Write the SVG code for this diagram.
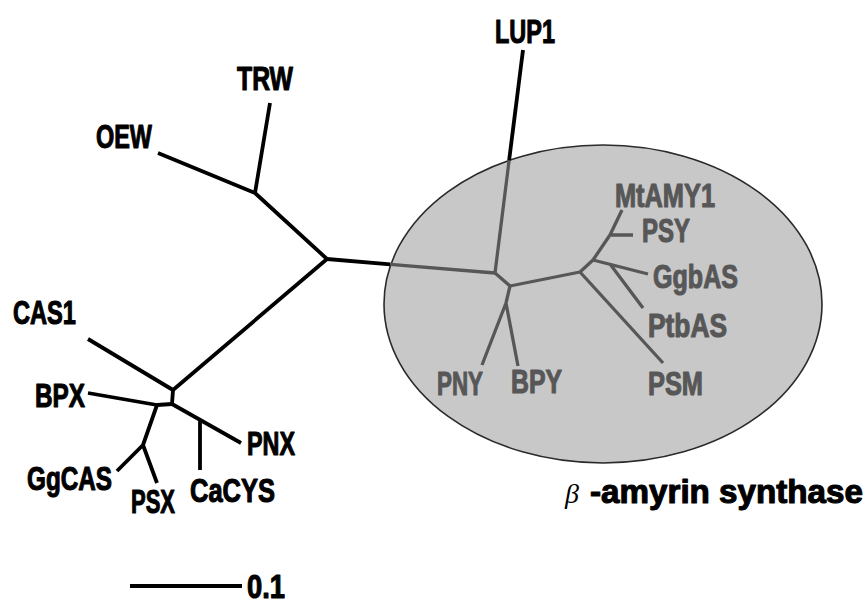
<svg xmlns="http://www.w3.org/2000/svg" width="867" height="605" viewBox="0 0 867 605">
  <style>
    .br { fill: none; stroke: #000; stroke-width: 3.8; stroke-linecap: butt; stroke-linejoin: round; }
    .bi { fill: none; stroke: #575757; stroke-width: 3.3; stroke-linecap: butt; stroke-linejoin: round; }
    .lb { font-family: "Liberation Sans Narrow", "Liberation Sans", Arial, sans-serif; font-weight: bold; font-size: 33px; fill: #000; stroke: #000; stroke-width: 1.1; stroke-linejoin: round; }
    .li { fill: #575757; stroke: #575757; }
  </style>

  <!-- beta-amyrin synthase clade highlight -->
  <g id="clade-bas">
    <ellipse cx="603" cy="304" rx="219" ry="159" fill="#c8c8c8" stroke="#2a2a2a" stroke-width="1.6"/>
  </g>

  <!-- branches -->
  <g id="connectors">
    <!-- outer tree -->
    <path class="br" d="M327,259 L255,193 M255,193 L158,153 M255,193 L270,103"/>
    <path class="br" d="M327,259 L390.3,264.3"/>
    <path class="br" d="M523,50 L509.1,160.4"/>
    <path class="br" d="M327,259 L173,390 L172,404 M173,390 L88,339"/>
    <path class="br" d="M172,404 L157,405 L88,393 M157,405 L143,445 L117,471 M143,445 L157,483"/>
    <path class="br" d="M172,404 L241,443 M200,420 L200,470"/>
    <!-- inside the clade -->
    <path class="bi" d="M390.3,264.3 L495,273 L509.1,160.4"/>
    <path class="bi" d="M495,273 L510,286 L580,272"/>
    <path class="bi" d="M510,286 L506,303 L482,365 M506,303 L518,366"/>
    <path class="bi" d="M580,272 L663,363 M580,272 L593,260 L648,274 M610,264 L643,308"/>
    <path class="bi" d="M593,260 L610,235 L622,210 M610,235 L633,235"/>
    <!-- scale bar -->
    <path class="br" d="M130,586 L242,586" stroke-width="4"/>
  </g>

  <!-- leaf labels -->
  <g id="leaf-LUP1"><text class="lb" x="495" y="43" textLength="60" lengthAdjust="spacingAndGlyphs">LUP1</text></g>
  <g id="leaf-TRW"><text class="lb" x="237" y="90" textLength="56" lengthAdjust="spacingAndGlyphs">TRW</text></g>
  <g id="leaf-OEW"><text class="lb" x="96" y="148" textLength="56" lengthAdjust="spacingAndGlyphs">OEW</text></g>
  <g id="leaf-CAS1"><text class="lb" x="13" y="324" textLength="63" lengthAdjust="spacingAndGlyphs">CAS1</text></g>
  <g id="leaf-BPX"><text class="lb" x="35" y="407" textLength="50" lengthAdjust="spacingAndGlyphs">BPX</text></g>
  <g id="leaf-GgCAS"><text class="lb" x="27" y="490" textLength="85" lengthAdjust="spacingAndGlyphs">GgCAS</text></g>
  <g id="leaf-PSX"><text class="lb" x="131" y="513" textLength="44" lengthAdjust="spacingAndGlyphs">PSX</text></g>
  <g id="leaf-CaCYS"><text class="lb" x="190" y="502" textLength="85" lengthAdjust="spacingAndGlyphs">CaCYS</text></g>
  <g id="leaf-PNX"><text class="lb" x="247" y="455" textLength="48" lengthAdjust="spacingAndGlyphs">PNX</text></g>

  <g id="leaf-MtAMY1"><text class="lb li" x="615" y="207" textLength="100" lengthAdjust="spacingAndGlyphs">MtAMY1</text></g>
  <g id="leaf-PSY"><text class="lb li" x="642" y="242" textLength="48" lengthAdjust="spacingAndGlyphs">PSY</text></g>
  <g id="leaf-GgbAS"><text class="lb li" x="653" y="288" textLength="85" lengthAdjust="spacingAndGlyphs">GgbAS</text></g>
  <g id="leaf-PtbAS"><text class="lb li" x="648" y="337" textLength="79" lengthAdjust="spacingAndGlyphs">PtbAS</text></g>
  <g id="leaf-PSM"><text class="lb li" x="648" y="395" textLength="55" lengthAdjust="spacingAndGlyphs">PSM</text></g>
  <g id="leaf-PNY"><text class="lb li" x="437" y="395" textLength="46" lengthAdjust="spacingAndGlyphs">PNY</text></g>
  <g id="leaf-BPY"><text class="lb li" x="511" y="393" textLength="51" lengthAdjust="spacingAndGlyphs">BPY</text></g>

  <!-- clade caption and scale -->
  <g id="caption">
    <text x="565" y="503" font-family="Liberation Serif, serif" font-style="italic" font-size="28" fill="#000">β</text>
    <text class="lb" x="590" y="503" font-size="36" textLength="273" lengthAdjust="spacingAndGlyphs">-amyrin synthase</text>
  </g>
  <g id="scale">
    <text class="lb" x="247" y="598" textLength="38" lengthAdjust="spacingAndGlyphs">0.1</text>
  </g>
</svg>
